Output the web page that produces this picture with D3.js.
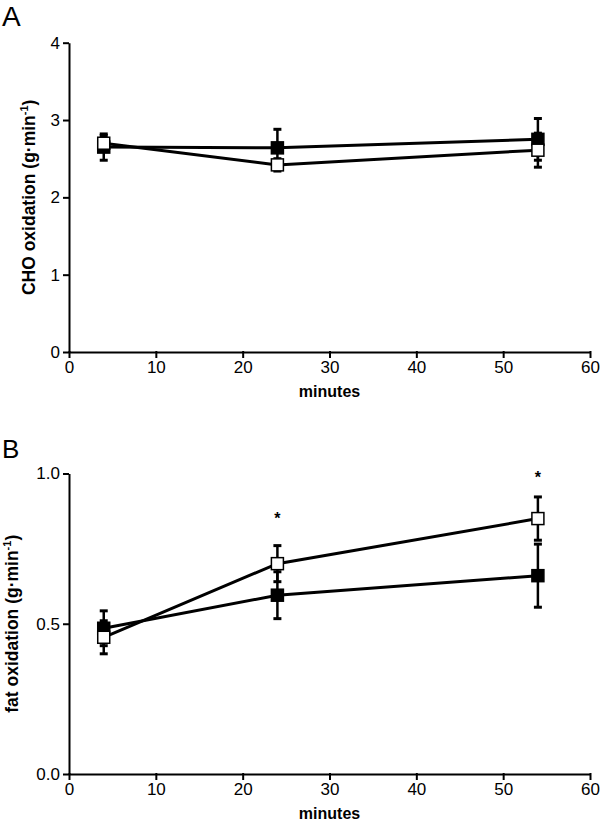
<!DOCTYPE html>
<html>
<head>
<meta charset="utf-8">
<script src="https://cdn.jsdelivr.net/npm/d3@7"></script>
<style>
  body { margin: 0; background: #fff; }
  svg { display: block; font-family: "Liberation Sans", Arial, sans-serif; }
</style>
</head>
<body>
<svg id="chart" width="600" height="826"></svg>
<script>
// sampling times (minutes)
const minutes = [4, 24, 54];

// panel A - CHO oxidation (g/min)
const choFilled = [2.65, 2.64, 2.75];
const choFilledErr = [0.17, 0.24, 0.27];
const choOpen = [2.70, 2.42, 2.61];
const choOpenErr = [0.10, 0.08, 0.22];

// panel B - fat oxidation (g/min)
const fatFilled = [0.485, 0.595, 0.66];
const fatFilledErr = [0.058, 0.078, 0.105];
const fatOpen = [0.455, 0.70, 0.85];
const fatOpenErr = [0.055, 0.06, 0.072];
// significance markers (minute, y position in data units)
const fatStars = [{ t: 24, v: 0.86 }, { t: 54, v: 0.995 }];

const xTicks = [0, 10, 20, 30, 40, 50, 60];
const choTicks = [0, 1, 2, 3, 4];
const fatTicks = [0, 0.5, 1.0];

const svg = d3.select("#chart");

const drawPanel = (opts) => {
  const { letter, letterSize, letterY, top, bottom, yMax, yTicks, yFormat,
          yTitle, titleX, filled, filledErr, open, openErr, stars } = opts;

  const x = d3.scaleLinear().domain([0, 60]).range([69, 590]);
  const y = d3.scaleLinear().domain([0, yMax]).range([bottom, top]);

  // panel letter
  svg.append("text")
    .attr("x", 2)
    .attr("y", letterY)
    .attr("font-size", letterSize)
    .text(letter);

  // Y axis
  const yAxis = svg.append("g")
    .attr("transform", `translate(${x(0)},0)`)
    .call(d3.axisLeft(y).tickValues(yTicks).tickFormat(yFormat)
      .tickSize(6).tickSizeOuter(0).tickPadding(3));

  // X axis
  const xAxis = svg.append("g")
    .attr("transform", `translate(0,${y(0)})`)
    .call(d3.axisBottom(x).tickValues(xTicks).tickFormat(d3.format("d"))
      .tickSize(6).tickSizeOuter(0).tickPadding(3));

  [yAxis, xAxis].forEach((g) => {
    g.select(".domain").attr("stroke", "#000").attr("stroke-width", 2);
    g.selectAll(".tick line").attr("stroke", "#000").attr("stroke-width", 2);
    g.selectAll(".tick text")
      .attr("font-size", 17)
      .attr("font-family", "Liberation Sans, Arial, sans-serif")
      .attr("fill", "#000");
  });
  xAxis.selectAll(".tick line").attr("y1", -1);

  // x axis title
  svg.append("text")
    .attr("x", (x(0) + x(60)) / 2)
    .attr("y", y(0) + 45)
    .attr("text-anchor", "middle")
    .attr("font-size", 16)
    .attr("font-weight", "bold")
    .text("minutes");

  // y axis title with superscript
  const yt = svg.append("text")
    .attr("transform", `translate(${titleX},${(top + bottom) / 2}) rotate(-90)`)
    .attr("text-anchor", "middle")
    .attr("font-size", 17.5)
    .attr("font-weight", "bold");
  yt.append("tspan").text(yTitle + " (g\u00b7min");
  yt.append("tspan").attr("font-size", 11).attr("dy", -7).text("-1");
  yt.append("tspan").attr("dy", 7).text(")");

  const series = [
    { vals: filled, errs: filledErr, fill: "#000" },
    { vals: open, errs: openErr, fill: "#fff" },
  ];

  // error bars
  series.forEach((s) => {
    const g = svg.append("g").attr("stroke", "#000");
    minutes.forEach((t, i) => {
      const lo = s.vals[i] - s.errs[i];
      const hi = s.vals[i] + s.errs[i];
      g.append("line")
        .attr("x1", x(t)).attr("x2", x(t))
        .attr("y1", y(lo)).attr("y2", y(hi))
        .attr("stroke-width", 2.5);
      [lo, hi].forEach((v) => {
        g.append("line")
          .attr("x1", x(t) - 4).attr("x2", x(t) + 4)
          .attr("y1", y(v)).attr("y2", y(v))
          .attr("stroke-width", 3);
      });
    });
  });

  // connecting lines
  const line = d3.line()
    .x((d, i) => x(minutes[i]))
    .y((d) => y(d));
  series.forEach((s) => {
    svg.append("path")
      .datum(s.vals)
      .attr("fill", "none")
      .attr("stroke", "#000")
      .attr("stroke-width", 3)
      .attr("d", line);
  });

  // square markers
  series.forEach((s) => {
    svg.append("g")
      .selectAll("rect")
      .data(s.vals)
      .enter()
      .append("rect")
      .attr("x", (d, i) => x(minutes[i]) - 6)
      .attr("y", (d) => y(d) - 6)
      .attr("width", 12)
      .attr("height", 12)
      .attr("fill", s.fill)
      .attr("stroke", "#000")
      .attr("stroke-width", 1.5);
  });

  // significance asterisks
  svg.append("g")
    .selectAll("text")
    .data(stars)
    .enter()
    .append("text")
    .attr("x", (d) => x(d.t))
    .attr("y", (d) => y(d.v) + 8)
    .attr("text-anchor", "middle")
    .attr("font-size", 16)
    .attr("font-weight", "bold")
    .text("*");
};

drawPanel({
  letter: "A", letterSize: 28, letterY: 26,
  top: 42.7, bottom: 352, yMax: 4, yTicks: choTicks, yFormat: d3.format("d"),
  yTitle: "CHO oxidation", titleX: 35,
  filled: choFilled, filledErr: choFilledErr,
  open: choOpen, openErr: choOpenErr, stars: [],
});

drawPanel({
  letter: "B", letterSize: 26, letterY: 458,
  top: 473.5, bottom: 774, yMax: 1, yTicks: fatTicks, yFormat: d3.format(".1f"),
  yTitle: "fat oxidation", titleX: 18,
  filled: fatFilled, filledErr: fatFilledErr,
  open: fatOpen, openErr: fatOpenErr, stars: fatStars,
});
</script>
</body>
</html>
